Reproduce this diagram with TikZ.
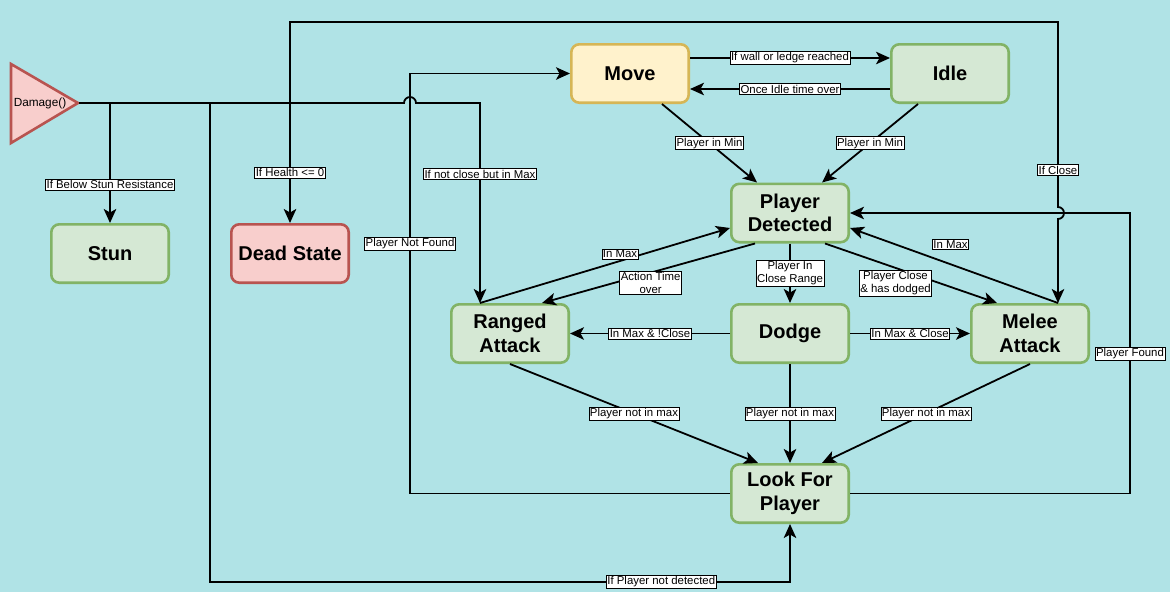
\documentclass[tikz,border=0pt]{standalone}
\usepackage{fontspec}
\setmainfont{Liberation Sans}
\usetikzlibrary{arrows.meta}
\definecolor{bg}{HTML}{B0E3E6}
\definecolor{gfill}{HTML}{D5E8D4}
\definecolor{gstroke}{HTML}{82B366}
\definecolor{yfill}{HTML}{FFF2CC}
\definecolor{ystroke}{HTML}{D6B656}
\definecolor{rfill}{HTML}{F8CECC}
\definecolor{rstroke}{HTML}{B85450}
\tikzset{
  state/.style={draw=gstroke, fill=gfill, line width=2.6pt, rounded corners=8pt,
    minimum width=117.4pt, minimum height=58.4pt, align=center, inner sep=2pt,
    font=\fontsize{20}{23.5}\selectfont\bfseries},
  lbl/.style={draw=black, fill=white, line width=0.6pt, inner xsep=1pt, inner ysep=1.2pt,
    align=center, text=black, font=\fontsize{11.4}{12.8}\selectfont},
  conn/.style={line width=1.8pt, draw=black, -{Stealth[length=14pt,width=12.5pt,inset=3.5pt]}}
}
\begin{document}
\begin{tikzpicture}[x=1pt,y=-1pt]
\path[fill=bg] (0,0) rectangle (1170,592);
\useasboundingbox (0,0) rectangle (1170,592);

% trigger
\draw[line width=2.6pt, fill=rfill, draw=rstroke, line join=miter] (11,64) -- (78,103) -- (11,143) -- cycle;
\node[font=\fontsize{11.8}{13}\selectfont, inner sep=0pt] (dmg) at (40,103) {Damage()};
\coordinate (dmgtip) at (79,103);

% states
\node[state] (stun) at (110,253.5) {Stun};
\node[state, fill=rfill, draw=rstroke] (dead) at (290,253.5) {Dead State};
\node[state, fill=yfill, draw=ystroke] (move) at (630,73.5) {Move};
\node[state] (idle) at (950,73.5) {Idle};
\node[state] (pd) at (790,213) {Player\\Detected};
\node[state] (ranged) at (510,333.5) {Ranged\\Attack};
\node[state] (dodge) at (790,333.5) {Dodge};
\node[state] (melee) at (1030,333.5) {Melee\\Attack};
\node[state] (lfp) at (790,493.5) {Look For\\Player};

% edges from Damage()
\draw[conn] (dmgtip) -- (110,103) -- node[lbl,pos=0.68]{If Below Stun Resistance} (stun.north);
\draw[conn] (dmgtip) -- (290,103) -- node[lbl,pos=0.58]{If Health <= 0} (dead.north);
\draw[conn] (dmgtip) -- (290,103) -- (290,22) -- (1058,22) -- node[lbl,pos=0.8]{If Close} (1058,207)
   arc[start angle=90,end angle=-90,radius=6pt] -- ([xshift=28pt]melee.north);
\draw[conn] (dmgtip) -- (404,103) arc[start angle=180,end angle=0,radius=6pt] -- (480,103)
   -- node[lbl,pos=0.355]{If not close but in Max} ([xshift=-30pt]ranged.north);
\draw[conn] (dmgtip) -- (210,103) -- (210,582) -- node[lbl,pos=0.778]{If Player not detected} (790,582) -- (lfp.south);

% Look For Player loops
\draw[conn] (lfp.west) -- (410,493.5) -- node[lbl,pos=0.595]{Player Not Found} (410,73.5) -- (move.west);
\draw[conn] (lfp.east) -- (1130,493.5) -- node[lbl,pos=0.498]{Player Found} (1130,213) -- (pd.east);

% Move / Idle
\draw[conn] ([yshift=15.5pt]move.east) -- node[lbl]{If wall or ledge reached} ([yshift=15.5pt]idle.west);
\draw[conn] ([yshift=-15.5pt]idle.west) -- node[lbl]{Once Idle time over} ([yshift=-15.5pt]move.east);
\draw[conn] ([xshift=32pt]move.south) -- node[lbl]{Player in Min} ([xshift=-33pt]pd.north);
\draw[conn] ([xshift=-32pt]idle.south) -- node[lbl]{Player in Min} ([xshift=32pt]pd.north);

% Player Detected
\draw[conn] (pd.south) -- node[lbl]{Player In\\Close Range} (dodge.north);
\draw[conn] ([xshift=-35pt]pd.south) -- node[lbl,pos=0.49,yshift=-10pt]{Action Time\\over} ([xshift=32pt]ranged.north);
\draw[conn] ([xshift=-30pt]ranged.north) -- node[lbl,pos=0.56,yshift=7pt]{In Max} ([yshift=-15pt]pd.west);
\draw[conn] ([xshift=35pt]pd.south) -- node[lbl,pos=0.41,yshift=-15pt]{Player Close\\\& has dodged} ([xshift=-33pt]melee.north);
\draw[conn] ([xshift=28pt]melee.north) -- node[lbl,pos=0.517,yshift=20pt]{In Max} ([yshift=-15pt]pd.east);

% Dodge
\draw[conn] (dodge.west) -- node[lbl]{In Max \& !Close} (ranged.east);
\draw[conn] (dodge.east) -- node[lbl]{In Max \& Close} (melee.west);

% to Look For Player
\draw[conn] (ranged.south) -- node[lbl]{Player not in max} ([xshift=-32pt]lfp.north);
\draw[conn] (dodge.south) -- node[lbl]{Player not in max} (lfp.north);
\draw[conn] (melee.south) -- node[lbl]{Player not in max} ([xshift=32pt]lfp.north);
\end{tikzpicture}
\end{document}
